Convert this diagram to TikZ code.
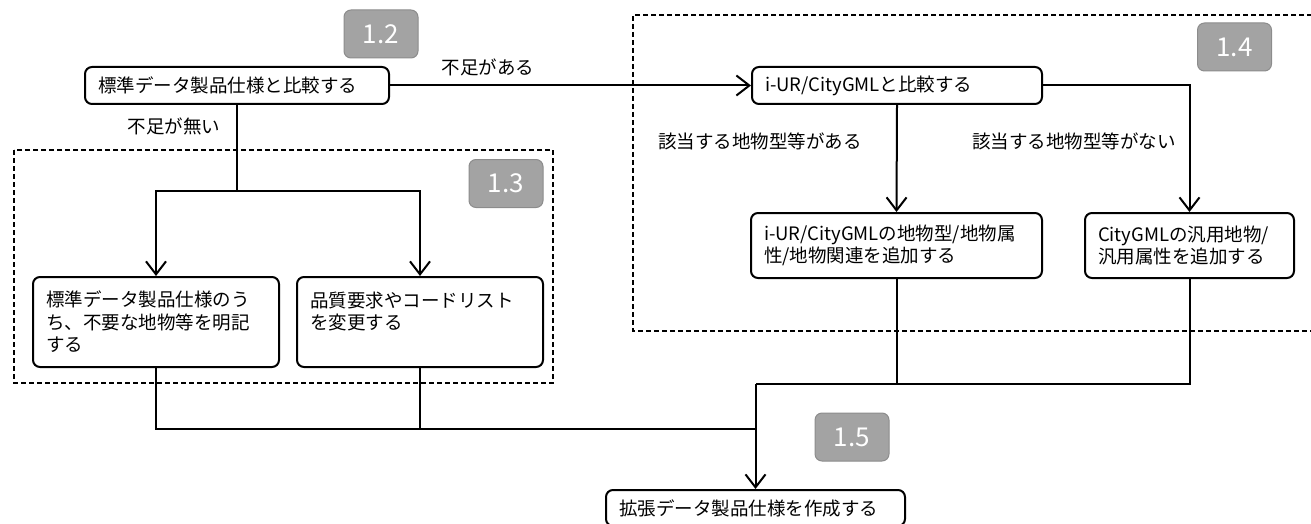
\documentclass[tikz,border=0pt]{standalone}
\usepackage{fontspec}
\setmainfont{Noto Sans CJK JP}
\usetikzlibrary{arrows.meta}
\definecolor{badgefill}{RGB}{163,163,163}
\definecolor{badgeborder}{RGB}{140,140,140}
\begin{document}
\begin{tikzpicture}[x=1pt,y=-1pt,
  proc/.style={draw=black, line width=2pt, rounded corners=7pt, fill=white, align=left, inner xsep=13pt, inner ysep=0pt, font=\fontsize{18.5}{22.5}\selectfont},
  badge/.style={draw=badgeborder, fill=badgefill, line width=1pt, rounded corners=7pt, minimum width=74pt, minimum height=48pt, text=white, font=\fontsize{26}{26}\selectfont, inner sep=0pt},
  conn/.style={line width=2pt},
  arr/.style={conn, -{Straight Barb[length=13pt,width=20pt]}},
  lbl/.style={font=\fontsize{18.5}{22.5}\selectfont, inner sep=0pt},
  grp/.style={line width=1.2pt, dash pattern=on 5pt off 3pt}
]
\useasboundingbox (0,0) rectangle (1311,524);

% groups
\draw[grp] (14,150) rectangle (553,383);
\draw[grp] (1320,15) -- (633,15) -- (633,331) -- (1320,331);

% badges
\node[badge] (b12) at (381,34) {1.2};
\node[badge] (b13) at (506,183.5) {1.3};
\node[badge] (b14) at (1234.5,47) {1.4};
\node[badge] (b15) at (852,437) {1.5};

% process boxes
\node[proc, text width=278pt, minimum height=37pt] (A) at (237,85.5) {標準データ製品仕様と比較する};
\node[proc, text width=264pt, minimum height=37pt] (B) at (897,85.5) {i-UR/CityGMLと比較する};
\node[proc, text width=220pt, minimum height=90pt] (C) at (156,322) {標準データ製品仕様のう\\ち、不要な地物等を明記\\する};
\node[proc, text width=220pt, minimum height=90pt] (D) at (420,322) {品質要求やコードリスト\\を変更する\\\mbox{}};
\node[proc, text width=265pt, minimum height=65pt] (E) at (896.5,245.5) {i-UR/CityGMLの地物型/地物属\\性/地物関連を追加する};
\node[proc, text width=183pt, minimum height=65pt] (F) at (1189.5,245.5) {CityGMLの汎用地物/\\汎用属性を追加する};
\node[proc, text width=273pt, minimum height=36pt] (G) at (755.5,508) {拡張データ製品仕様を作成する};

% labels
\node[lbl] (l1) at (488,67) {不足がある};
\node[lbl] (l2) at (174,126) {不足が無い};
\node[lbl] (l3) at (760,141) {該当する地物型等がある};
\node[lbl] (l4) at (1074,141) {該当する地物型等がない};

% junctions
\coordinate (j1) at (237,191);
\coordinate (j2) at (755.5,384);
\coordinate (j3) at (755.5,429);

% connectors
\draw[arr] (A) -- (B);
\draw[conn] (A.south) -- (j1);
\draw[arr] (j1) -| (C.north);
\draw[arr] (j1) -| (D.north);
\draw[arr] (B.south) -- (E.north);
\draw[arr] (B.east) -| (F.north);
\draw[conn] (F.south) |- (j2);
\draw[conn] (E.south) -- (E.south |- j2);
\draw[conn] (C.south) |- (j3);
\draw[conn] (D.south) -- (D.south |- j3);
\draw[arr] (j2) -- (G.north);
\end{tikzpicture}
\end{document}
